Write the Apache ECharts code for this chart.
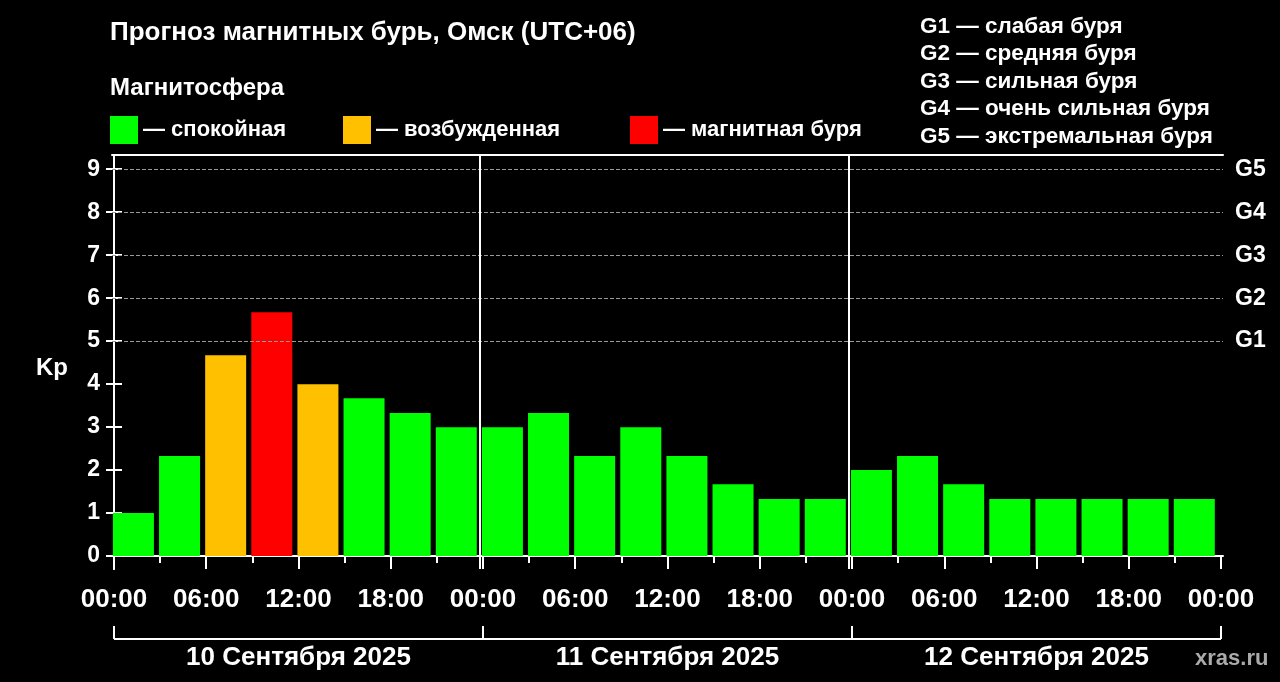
<!DOCTYPE html>
<html><head><meta charset="utf-8">
<script src="https://cdn.jsdelivr.net/npm/echarts@6/dist/echarts.min.js"></script>
<style>html,body{margin:0;background:#000}#c{width:1280px;height:682px}</style>
</head><body><div id="c"></div>
<script>
const hours = [1.5,4.5,7.5,10.5,13.5,16.5,19.5,22.5,25.5,28.5,31.5,34.5,37.5,40.5,43.5,46.5,49.5,52.5,55.5,58.5,61.5,64.5,67.5,70.5];
const kp = [1.0,2.33,4.67,5.67,4.0,3.67,3.33,3.0, 3.0,3.33,2.33,3.0,2.33,1.67,1.33,1.33, 2.0,2.33,1.67,1.33,1.33,1.33,1.33,1.33];
const timeLabels = ['00:00','06:00','12:00','18:00'];
const dayLabels = {12:'10 Сентября 2025',36:'11 Сентября 2025',60:'12 Сентября 2025'};
const gLabels = {5:'G1',6:'G2',7:'G3',8:'G4',9:'G5'};
const gText = ['G1 — слабая буря','G2 — средняя буря','G3 — сильная буря','G4 — очень сильная буря','G5 — экстремальная буря'];
const legendNames = ['— спокойная','— возбужденная','— магнитная буря'];
const colors = ['#00ff00','#ffc000','#ff0000'];
function col(v){return v>=5?colors[2]:(v>=4?colors[1]:colors[0]);}
function range(a,b,s){const r=[];for(let v=a;v<=b+1e-9;v+=s)r.push(v);return r;}
const F = 'Liberation Sans, Arial, sans-serif';
const W = '#ffffff';
const xBase = {type:'value',min:-0.13,max:72.13,position:'bottom',splitLine:{show:false}};
const ch = echarts.init(document.getElementById('c'));
ch.setOption({
  backgroundColor:'#000',
  animation:false,
  textStyle:{fontFamily:F},
  title:[
    {text:'Прогноз магнитных бурь, Омск (UTC+06)',left:105,top:15,textStyle:{color:W,fontSize:26,fontWeight:'bold',fontFamily:F}},
    {text:'Магнитосфера',left:105,top:71,textStyle:{color:W,fontSize:24,fontWeight:'bold',fontFamily:F}},
    {text:gText.join('\n'),left:915,top:8,textStyle:{color:W,fontSize:22.5,fontWeight:'bold',lineHeight:27.5,fontFamily:F}},
    {text:'Kp',left:31,top:351,textStyle:{color:W,fontSize:24,fontWeight:'bold',fontFamily:F}},
    {text:'xras.ru',left:1190,top:643,textStyle:{color:'#aaaaaa',fontSize:22,fontFamily:F}}
  ],
  legend:legendNames.map((n,i)=>({data:[n],left:[105,338,625][i],top:111,icon:'rect',itemWidth:28,itemHeight:28,itemGap:10,
    textStyle:{color:W,fontSize:22,fontWeight:'bold',fontFamily:F},selectedMode:false})),
  grid:{left:112,right:57,top:155,bottom:113},
  xAxis:[
    Object.assign({},xBase,{axisLine:{show:true,lineStyle:{color:W,width:2}},axisTick:{show:true,length:7,customValues:range(0,72,3),lineStyle:{color:W,width:2}},axisLabel:{show:false}}),
    Object.assign({},xBase,{axisLine:{show:false},axisTick:{show:true,length:13,customValues:range(0,72,6),lineStyle:{color:W,width:2}},
      axisLabel:{show:true,customValues:range(0,72,6),color:W,fontSize:26,fontWeight:'bold',margin:18,fontFamily:F,formatter:v=>timeLabels[Math.round(v/6)%4]}}),
    Object.assign({},xBase,{offset:70,axisLine:{show:false},axisTick:{show:true,inside:true,length:13,customValues:[0,24,48,72],lineStyle:{color:W,width:2}},axisLabel:{show:false}}),
    Object.assign({},xBase,{offset:70,axisLine:{show:false},axisTick:{show:false},
      axisLabel:{show:true,customValues:[12,36,60],color:W,fontSize:26,fontWeight:'bold',margin:6,fontFamily:F,formatter:v=>dayLabels[Math.round(v)]||''}}),
    Object.assign({},xBase,{position:'top',axisLine:{show:true,lineStyle:{color:W,width:2}},axisTick:{show:false},axisLabel:{show:false}})
  ],
  yAxis:[
    {type:'value',min:-0.3,max:9.33,position:'left',axisLine:{show:true,lineStyle:{color:W,width:2}},
      axisTick:{show:true,length:8,customValues:range(0,9,1),lineStyle:{color:W,width:2}},splitLine:{show:false},
      axisLabel:{customValues:range(0,9,1),color:W,fontSize:23,fontWeight:'bold',margin:12,fontFamily:F,formatter:v=>String(Math.round(v))}},
    {type:'value',min:-0.3,max:9.33,position:'right',axisLine:{show:true,lineStyle:{color:W,width:2}},
      axisTick:{show:true,length:8,customValues:range(0,9,1),lineStyle:{color:W,width:2}},splitLine:{show:false},
      axisLabel:{customValues:[5,6,7,8,9],color:W,fontSize:23,fontWeight:'bold',margin:12,fontFamily:F,formatter:v=>gLabels[Math.round(v)]||''}}
  ],
  series:[
    {type:'bar',xAxisIndex:0,yAxisIndex:0,barWidth:41,silent:true,
      data:hours.map((h,i)=>({value:[h,kp[i]],itemStyle:{color:col(kp[i])}})),
      markLine:{silent:true,symbol:'none',label:{show:false},
        data:[
          ...[5,6,7,8,9].map(v=>({yAxis:v,lineStyle:{color:'#999',type:'dashed',width:1}})),
          ...[24,48].map(v=>({xAxis:v,lineStyle:{color:W,type:'solid',width:2}}))
        ]},
      z:2},
    {type:'line',xAxisIndex:2,yAxisIndex:0,silent:true,data:[],
      markLine:{silent:true,symbol:'none',label:{show:false},lineStyle:{color:W,type:'solid',width:2},
        data:[[{coord:[0,0],x:114,y:639},{x:1221,y:639}]]}},
    ...legendNames.map((n,i)=>({name:n,type:'bar',data:[],itemStyle:{color:colors[i]}}))
  ]
});
</script></body></html>
